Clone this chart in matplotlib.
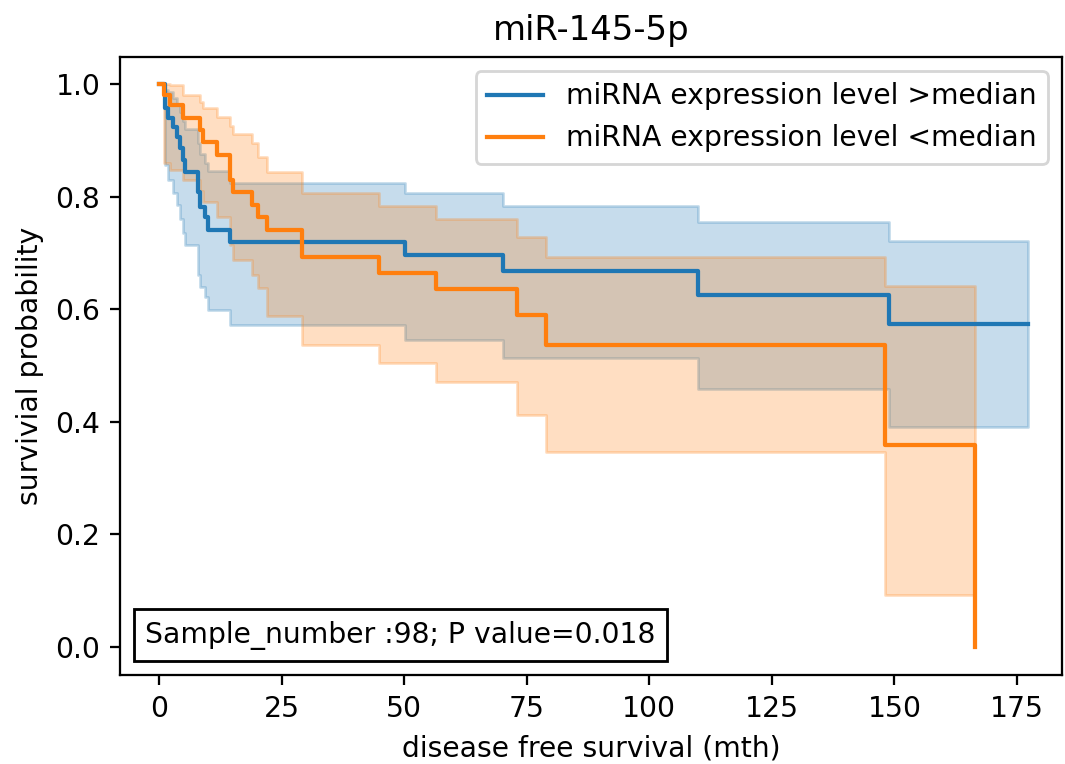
import matplotlib
matplotlib.use('Agg')
import matplotlib.pyplot as plt
from matplotlib.offsetbox import AnchoredText

# Kaplan-Meier curves (time in months)
t_high = [0, 1.2, 1.8, 2.9, 3.7, 4.3, 4.9, 5.3, 8.0, 8.4, 9.4, 10.0, 14.5, 50.2, 70.1, 110.0, 148.9, 177.3]
s_high = [1.0, 0.957, 0.940, 0.924, 0.906, 0.886, 0.865, 0.844, 0.808, 0.782, 0.764, 0.741, 0.719,
          0.696, 0.667, 0.625, 0.574, 0.574]
lo_high = [1.0, 0.856, 0.830, 0.806, 0.785, 0.760, 0.735, 0.714, 0.660, 0.639, 0.622, 0.599, 0.572,
           0.545, 0.513, 0.458, 0.390, 0.390]
up_high = [1.0, 0.990, 0.985, 0.975, 0.965, 0.950, 0.935, 0.920, 0.895, 0.875, 0.860, 0.845, 0.824,
           0.806, 0.783, 0.754, 0.721, 0.721]

t_low = [0, 1.0, 2.2, 4.9, 8.4, 9.0, 11.8, 14.5, 15.0, 19.0, 20.2, 22.0, 29.2, 44.9, 56.5, 73.0, 79.0,
         148.0, 166.5]
s_low = [1.0, 0.980, 0.963, 0.940, 0.918, 0.897, 0.874, 0.829, 0.808, 0.785, 0.764, 0.741, 0.693,
         0.665, 0.636, 0.590, 0.536, 0.359, 0.0]
lo_low = [1.0, 0.860, 0.847, 0.830, 0.810, 0.790, 0.764, 0.714, 0.687, 0.660, 0.638, 0.588, 0.536,
          0.504, 0.471, 0.412, 0.347, 0.092, 0.092]
up_low = [1.0, 1.0, 0.998, 0.981, 0.968, 0.957, 0.941, 0.925, 0.912, 0.895, 0.870, 0.844, 0.806,
          0.783, 0.760, 0.729, 0.693, 0.641, 0.641]

labels = ['miRNA expression level >median', 'miRNA expression level <median']
title = 'miR-145-5p'
note = 'Sample_number :98; P value=0.018'

dpi = 203
fig = plt.figure(figsize=(1065 / dpi, 764 / dpi), dpi=dpi)
ax = fig.add_axes([0.1127, 0.1165, 0.8845, 0.8089])

groups = [(t_high, s_high, lo_high, up_high, 'C0', labels[0]),
          (t_low, s_low, lo_low, up_low, 'C1', labels[1])]
for t, s, lo, up, c, lab in groups:
    ax.fill_between(t, lo, up, step='post', color=c, alpha=0.25)
    ax.plot(t, s, drawstyle='steps-post', color=c, lw=1.5, label=lab)

ax.set_xlim(-8.0, 184.2)
ax.set_ylim(-0.05, 1.048)
ax.set_xticks([0, 25, 50, 75, 100, 125, 150, 175])
ax.set_title(title)
ax.set_xlabel('disease free survival (mth)')
ax.set_ylabel('survivial probability')
ax.legend(loc='upper right')

# annotation box in the lower left corner
at = AnchoredText(note, loc='lower left', prop=dict(size=10), frameon=True)
at.patch.set_boxstyle('square,pad=0.')
ax.add_artist(at)

fig.savefig('out.png', dpi=dpi)
